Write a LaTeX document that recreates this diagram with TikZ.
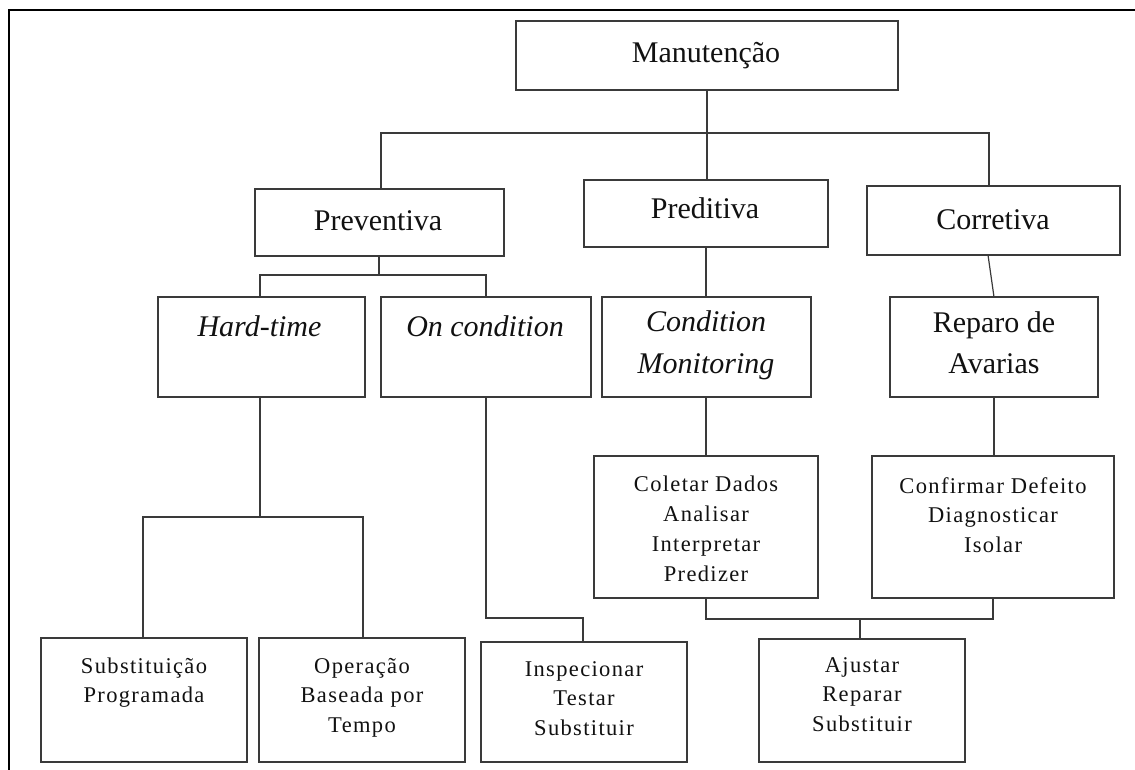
\documentclass[tikz,border=0pt]{standalone}
\usepackage{fontspec}
\setmainfont{Liberation Serif}
\newfontfamily\smallserif[LetterSpace=6]{Liberation Serif}
\usetikzlibrary{calc}
\definecolor{linegray}{HTML}{3A3A3A}
\definecolor{textink}{HTML}{111111}
\begin{document}
\begin{tikzpicture}[x=1pt,y=-1pt,
  box/.style={draw=linegray, line width=1.2pt, inner sep=0pt, outer sep=0pt},
  conn/.style={draw=linegray, line width=1.2pt},
  big/.style={anchor=base, inner sep=0pt, text=textink, font=\fontsize{30}{41}\selectfont},
  bigit/.style={anchor=base, inner sep=0pt, text=textink, font=\fontsize{30}{41.3}\selectfont\itshape},
  small/.style={anchor=base, inner sep=0pt, text=textink, font=\smallserif\fontsize{22.5}{29.8}\selectfont}]
\useasboundingbox (0,0) rectangle (1135,769);
\fill[white] (0,0) rectangle (1135,769);
% frame
\draw[line width=2.4pt, black] (9,772) -- (9,10) -- (1138,10);

% boxes
\node[box, minimum width=382pt, minimum height=69pt] (man) at (707,55.5) {};
\node[box, minimum width=249pt, minimum height=67pt] (prev) at (379.5,222.5) {};
\node[box, minimum width=244pt, minimum height=67pt] (pred) at (706,213.5) {};
\node[box, minimum width=253pt, minimum height=69pt] (corr) at (993.5,220.5) {};
\node[box, minimum width=207pt, minimum height=100pt] (hard) at (261.5,347) {};
\node[box, minimum width=210pt, minimum height=100pt] (oncond) at (486,347) {};
\node[box, minimum width=209pt, minimum height=100pt] (condmon) at (706.5,347) {};
\node[box, minimum width=208pt, minimum height=100pt] (rep) at (994,347) {};
\node[box, minimum width=224pt, minimum height=142pt] (col) at (706,527) {};
\node[box, minimum width=242pt, minimum height=142pt] (conf) at (993,527) {};
\node[box, minimum width=206pt, minimum height=124pt] (subs) at (144,700) {};
\node[box, minimum width=206pt, minimum height=124pt] (oper) at (362,700) {};
\node[box, minimum width=206pt, minimum height=120pt] (insp) at (584,702) {};
\node[box, minimum width=206pt, minimum height=123pt] (aju) at (862,700.5) {};

% texts
\node[big] (tman) at (706,62.5) {Manutenção};
\node[big] (tprev) at (378,230.7) {Preventiva};
\node[big] (tpred) at (705,218.3) {Preditiva};
\node[big] (tcorr) at (993,229.3) {Corretiva};
\node[bigit] (thard) at (259.5,336.7) {Hard-time};
\node[bigit] (toncond) at (485,336.7) {On condition};
\node[bigit] (tcondmon) at (706,331.7) {\begin{tabular}[t]{@{}c@{}}Condition\\Monitoring\end{tabular}};
\node[big] (trep) at (994,332.5) {\begin{tabular}[t]{@{}c@{}}Reparo de\\Avarias\end{tabular}};
\node[small] (tcol) at (706,491.7) {\begin{tabular}[t]{@{}c@{}}Coletar Dados\\Analisar\\Interpretar\\Predizer\end{tabular}};
\node[small] (tconf) at (993,493) {\begin{tabular}[t]{@{}c@{}}Confirmar Defeito\\Diagnosticar\\Isolar\end{tabular}};
\node[small] (tsubs) at (144,673) {\begin{tabular}[t]{@{}c@{}}Substituição\\Programada\end{tabular}};
\node[small] (toper) at (362,673) {\begin{tabular}[t]{@{}c@{}}Operação\\Baseada por\\Tempo\end{tabular}};
\node[small] (tinsp) at (584,676) {\begin{tabular}[t]{@{}c@{}}Inspecionar\\Testar\\Substituir\end{tabular}};
\node[small] (taju) at (862,672) {\begin{tabular}[t]{@{}c@{}}Ajustar\\Reparar\\Substituir\end{tabular}};

% connectors
\coordinate (busY) at (0,133);
\draw[conn] (man.south) -- (man.south |- pred.north);
\draw[conn] ([xshift=1.5pt]prev.north) |- (man.south |- busY) -| ([xshift=-4.5pt]corr.north);
\draw[conn] ([xshift=-0.5pt]prev.south) -- ++(0,19);
\draw[conn] ([xshift=-1.5pt]hard.north) -- ++(0,-22) -| (oncond.north);
\draw[conn] (pred.south) -- (pred.south |- condmon.north);
\draw[conn] ([xshift=-5.5pt]corr.south) -- (rep.north);
\draw[conn] ([xshift=-0.5pt]condmon.south) -- ([xshift=-0.5pt]condmon.south |- col.north);
\draw[conn] (rep.south) -- (rep.south |- conf.north);
\draw[conn] (col.south) -- ++(0,21) -| (conf.south);
\draw[conn] ([xshift=-2pt]aju.north) -- ++(0,-20);
\draw[conn] ([xshift=-1.5pt]hard.south) -- ++(0,120) coordinate (jh);
\draw[conn] ([xshift=-1pt]subs.north) |- ([xshift=1pt]jh -| oper.north) -- ([xshift=1pt]oper.north);
\draw[conn] (oncond.south) |- ([yshift=24pt,xshift=-1pt]insp.north) -- ([xshift=-1pt]insp.north);
\end{tikzpicture}
\end{document}
